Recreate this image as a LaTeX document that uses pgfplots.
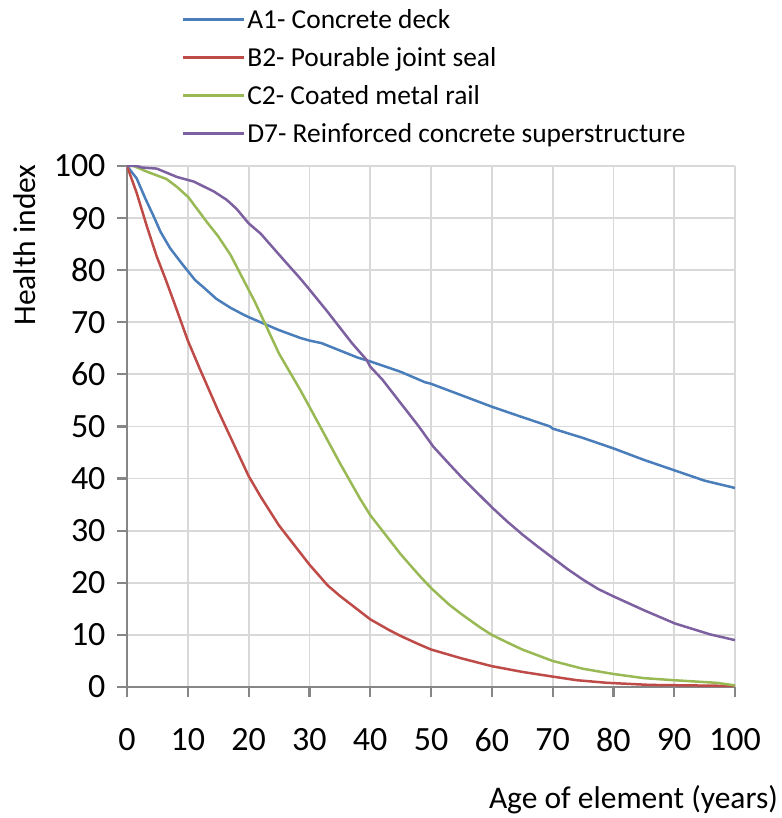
\documentclass[border=0pt]{standalone}
\usepackage{fontspec}
\setmainfont{Carlito}
\usepackage{pgfplots}
\pgfplotsset{compat=1.18}
\definecolor{cA}{HTML}{4A7EBB}
\definecolor{cB}{HTML}{BE4B48}
\definecolor{cC}{HTML}{98B954}
\definecolor{cD}{HTML}{7D60A0}
\definecolor{gridc}{HTML}{D9D9D9}
\definecolor{axc}{HTML}{868686}
\begin{document}
\begin{tikzpicture}
\path[use as bounding box] (-127pt,-131pt) rectangle (654pt,687pt);
\begin{axis}[
  at={(0pt,0pt)}, anchor=south west,
  scale only axis, width=608pt, height=521pt,
  xmin=0, xmax=100, ymin=0, ymax=100,
  xtick={0,10,...,100}, ytick={0,10,...,100},
  axis lines=left,
  axis line style={-, draw=axc, line width=2.2pt},
  tick style={draw=axc, line width=2.2pt},
  major tick length=10pt,
  tick align=outside,
  grid=major,
  major grid style={draw=gridc, line width=1.8pt},
  /pgf/number format/assume math mode=true,
  ticklabel style={font=\fontsize{34}{38}\selectfont},
  xticklabel style={yshift=-28pt},
  yticklabel style={xshift=-8pt},
  xlabel={Age of element (years)},
  ylabel={Health index},
  label style={font=\fontsize{31.5}{36}\selectfont},
  xlabel style={at={(axis description cs:1.0707,-0.2169)}, anchor=east, inner sep=0pt},
  ylabel style={at={(axis description cs:-0.1678,0.8484)}, anchor=center, inner sep=0pt},
  legend style={draw=none, fill=none, at={(axis description cs:0.085,1.309)}, anchor=north west,
    font=\fontsize{27.4}{31}\selectfont, row sep=13.5pt, cells={anchor=west}},
  legend image code/.code={\draw[#1] (0pt,0pt) -- (61pt,0pt);},
  every axis plot/.append style={line width=2.5pt, line join=round},
]
\addplot[cA] coordinates {
(0,100) (1.6,97.6) (3,93.8) (4.4,90.3) (5.5,87.4) (7.1,84.2) (9,81.3) (11.2,78.1) (12.5,76.8)
(14.7,74.5) (17,72.8) (19.1,71.5) (20,71) (23,69.5) (25,68.5) (28.5,67) (30,66.5) (32,66)
(35,64.6) (38,63.2) (40,62.5) (45,60.5) (49,58.5) (50,58.2) (55,56) (60,53.8) (65,51.8)
(69.6,50) (70,49.6) (75,47.8) (80,45.8) (85,43.6) (90,41.6) (95,39.6) (100,38.2)};
\addlegendentry{A1- Concrete deck}
\addplot[cB] coordinates {
(0,100) (1.6,94.8) (3.3,88.3) (4.9,82.6) (6.3,78.4) (8,73) (10,66.5) (12,61) (15,53) (17,48)
(20,40.5) (22,36.5) (25,31) (28,26.5) (30,23.5) (33,19.5) (35,17.5) (38,14.8) (40,13) (43,11)
(45,9.8) (48,8.2) (50,7.2) (55,5.5) (60,4) (65,2.9) (70,2) (74,1.3) (79,0.8) (86,0.4) (100,0.2)};
\addlegendentry{B2- Pourable joint seal}
\addplot[cC] coordinates {
(0,100) (1.1,100) (3.3,98.9) (6.5,97.5) (8.2,96) (10.1,94) (13.1,89.3) (15,86.5) (17,83)
(19,78.5) (21,74) (23,69) (25,64) (27,60) (28.5,57) (30,53.8) (32,49.5) (35,43) (38.3,36.2)
(40,33) (42,30) (45,25.5) (48,21.5) (50,19) (53,15.8) (55,14) (58,11.5) (60,10) (63,8.3)
(65,7.2) (70,5) (75,3.5) (80,2.5) (85,1.7) (90,1.3) (97,0.8) (100,0.3)};
\addlegendentry{C2- Coated metal rail}
\addplot[cD] coordinates {
(0,100) (1.6,100) (2.5,99.7) (4.9,99.5) (8.2,97.9) (11,97) (14.3,95.1) (16.4,93.5) (18,91.8)
(20,89) (22,87) (25,83) (28.5,78.4) (30,76.3) (33,72) (35,69) (37,66) (39.4,62.8) (40,61.5)
(42,59) (45,54.5) (48,50) (50.4,46.1) (53,42.8) (55,40.3) (57.5,37.4) (60,34.5) (62.5,31.8)
(65,29.3) (67.5,27) (70,24.8) (72.5,22.6) (75,20.6) (77.5,18.8) (80,17.4) (84.9,14.8)
(90.1,12.2) (95.9,10.1) (100,9)};
\addlegendentry{D7- Reinforced concrete superstructure}
\end{axis}
\end{tikzpicture}
\end{document}
